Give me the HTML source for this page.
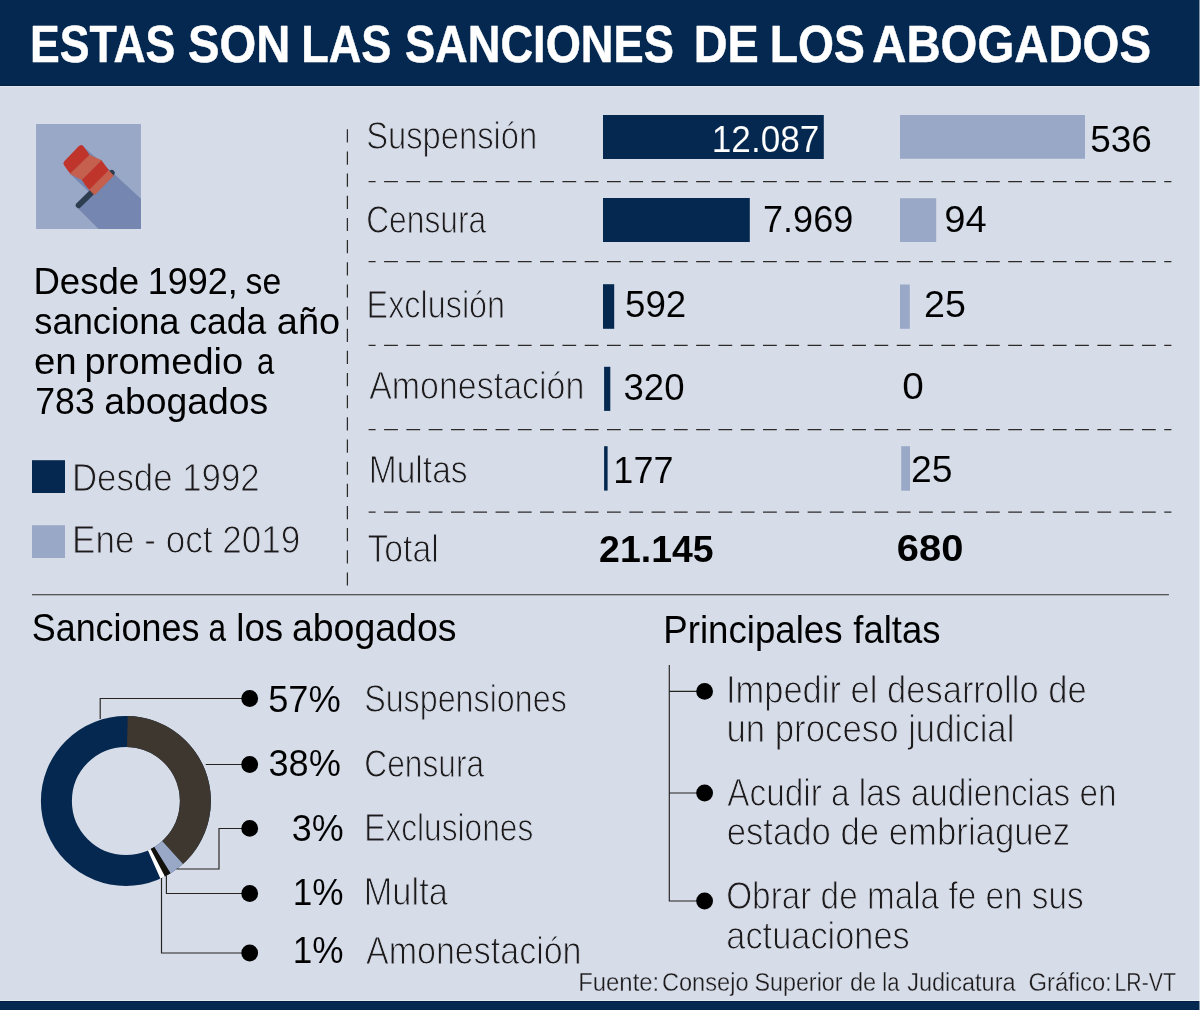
<!DOCTYPE html><html lang="es"><head><meta charset="utf-8"><title>Estas son las sanciones de los abogados</title>
<style>html,body{margin:0;padding:0;background:#d6dde9;}svg{display:block;font-family:"Liberation Sans",sans-serif;}</style></head><body>
<svg width="1200" height="1010" viewBox="0 0 1200 1010">
<rect width="1200" height="1010" fill="#d6dde9"/>
<rect width="1200" height="86" fill="#052850"/>
<rect y="1001" width="1200" height="9" fill="#052850"/>
<rect y="85" width="1200" height="1" fill="#021f47"/><rect y="86" width="1200" height="1" fill="#e2e7f0"/>
<rect y="1000" width="1200" height="1" fill="#e2e7f0"/><rect y="1001" width="1200" height="1" fill="#021f47"/>
<svg x="36" y="124" width="105" height="105" viewBox="123 107 817 818">
<rect x="123" y="107" width="817" height="818" fill="#9aa8c7"/>
<path d="M478 270 L725 490 L940 690 L940 925 L610 925 L440 755 L540 640 L385 492 Z" fill="#7587b0"/>
<line x1="455" y1="740" x2="712" y2="487" stroke="#2c3e50" stroke-width="46" stroke-linecap="round"/>
<path d="M540 350 L390 495 L362 455 L509 306 Z" fill="#c0352b"/>
<path d="M473.9 295.9 L360.3 414.1 L393.1 458.7 L508.7 346.8 Z" fill="#c0352b" stroke="#c0352b" stroke-width="48" stroke-linejoin="round"/>
<path d="M480 540 L510 585 L540 620 L690 470 L660 430 L630 390 Z" fill="#c0352b" stroke="#c0352b" stroke-width="5" stroke-linejoin="round"/>
<path d="M390 495 L440 522 L480 540 L630 390 L590 372 L540 350 Z" fill="#c55f4e" stroke="#c55f4e" stroke-width="5" stroke-linejoin="round"/>
<path d="M540 620 L578 660 L726 510 L690 470 Z" fill="#c55f4e" stroke="#c55f4e" stroke-width="5" stroke-linejoin="round"/>
</svg>
<rect x="32" y="460.2" width="33" height="32.8" fill="#052850"/>
<rect x="32" y="525.2" width="33" height="32.8" fill="#9aa8c7"/>
<line x1="347.4" y1="129.3" x2="347.4" y2="585.7" stroke="#2e2a28" stroke-width="1.25" stroke-dasharray="13.2 8.955"/>
<line x1="368.6" y1="181.65" x2="1171.4" y2="181.65" stroke="#2e2a28" stroke-width="1.25" stroke-dasharray="13.8 8.49" stroke-dashoffset="6.8"/>
<line x1="368.6" y1="261.5" x2="1171.4" y2="261.5" stroke="#2e2a28" stroke-width="1.25" stroke-dasharray="13.8 8.49" stroke-dashoffset="6.8"/>
<line x1="368.6" y1="345.45" x2="1171.4" y2="345.45" stroke="#2e2a28" stroke-width="1.25" stroke-dasharray="13.8 8.49" stroke-dashoffset="6.8"/>
<line x1="368.6" y1="429.68" x2="1171.4" y2="429.68" stroke="#2e2a28" stroke-width="1.25" stroke-dasharray="13.8 8.49" stroke-dashoffset="6.8"/>
<line x1="368.6" y1="512.0" x2="1171.4" y2="512.0" stroke="#2e2a28" stroke-width="1.25" stroke-dasharray="13.8 8.49" stroke-dashoffset="6.8"/>
<line x1="32" y1="594.75" x2="1168.9" y2="594.75" stroke="#2e2a28" stroke-width="1.2"/>
<rect x="603" y="115" width="220.8" height="44.0" fill="#052850"/>
<rect x="603" y="198" width="146.8" height="44.0" fill="#052850"/>
<rect x="603" y="284.2" width="11.2" height="44.6" fill="#052850"/>
<rect x="604.1" y="366.8" width="6.2" height="44.1" fill="#052850"/>
<rect x="604.1" y="446.2" width="3.5" height="44.4" fill="#052850"/>
<rect x="900" y="115" width="185.0" height="43.8" fill="#9aa8c7"/>
<rect x="900" y="198.2" width="36.2" height="43.8" fill="#9aa8c7"/>
<rect x="900" y="284.5" width="9.8" height="44.3" fill="#9aa8c7"/>
<rect x="901.2" y="446.2" width="8.8" height="44.5" fill="#9aa8c7"/>
<circle cx="125.9" cy="801" r="69.5" fill="none" stroke="#052850" stroke-width="31"/>
<path d="M127.68 716.02 A85 85 0 0 1 182.78 864.17 L162.03 841.13 A54 54 0 0 0 127.03 747.01 Z" fill="#3d3730"/>
<path d="M183.00 863.97 A85 85 0 0 1 170.31 873.47 L154.11 847.04 A54 54 0 0 0 162.17 841.00 Z" fill="#9aa8c7"/>
<path d="M170.57 873.32 A85 85 0 0 1 164.62 876.67 L150.50 849.07 A54 54 0 0 0 154.28 846.94 Z" fill="#12110c"/>
<path d="M164.89 876.53 A85 85 0 0 1 160.47 878.65 L147.86 850.33 A54 54 0 0 0 150.67 848.99 Z" fill="#fff"/>
<path d="M100.2 719 V698.5 H249.6" stroke="#262220" stroke-width="1.15" fill="none"/>
<path d="M205.7 764.5 H249.6" stroke="#262220" stroke-width="1.15" fill="none"/>
<path d="M176.5 869 H219 V828.5 H249.6" stroke="#262220" stroke-width="1.15" fill="none"/>
<path d="M166.4 875 V893.5 H249.6" stroke="#262220" stroke-width="1.15" fill="none"/>
<path d="M161.5 878 V953 H249.6" stroke="#262220" stroke-width="1.15" fill="none"/>
<circle cx="249.7" cy="698.5" r="8.4" fill="#000"/>
<circle cx="249.7" cy="764.5" r="8.4" fill="#000"/>
<circle cx="249.7" cy="828.4" r="8.4" fill="#000"/>
<circle cx="249.7" cy="893.5" r="8.4" fill="#000"/>
<circle cx="249.7" cy="953" r="8.4" fill="#000"/>
<path d="M704 691.4 H669.3 M704 793 H669.3 M669.3 665 V901 H704" stroke="#262220" stroke-width="1.15" fill="none"/>
<circle cx="704.6" cy="691.4" r="8.4" fill="#000"/>
<circle cx="704.6" cy="793" r="8.4" fill="#000"/>
<circle cx="704.6" cy="901" r="8.4" fill="#000"/>
<text transform="translate(30.05 62.45) scale(0.8732 1)" font-size="51.05" font-weight="700" fill="#fff" stroke="#fff" stroke-width="0.50" stroke-linejoin="round">ESTAS</text>
<text transform="translate(188.05 62.45) scale(0.9241 1)" font-size="51.05" font-weight="700" fill="#fff" stroke="#fff" stroke-width="0.50" stroke-linejoin="round">SON</text>
<text transform="translate(301.18 62.45) scale(0.8828 1)" font-size="51.05" font-weight="700" fill="#fff" stroke="#fff" stroke-width="0.50" stroke-linejoin="round">LAS</text>
<text transform="translate(404.91 62.45) scale(0.8864 1)" font-size="51.05" font-weight="700" fill="#fff" stroke="#fff" stroke-width="0.50" stroke-linejoin="round">SANCIONES</text>
<text transform="translate(693.81 62.45) scale(0.9173 1)" font-size="51.05" font-weight="700" fill="#fff" stroke="#fff" stroke-width="0.50" stroke-linejoin="round">DE</text>
<text transform="translate(769.81 62.45) scale(0.9066 1)" font-size="51.05" font-weight="700" fill="#fff" stroke="#fff" stroke-width="0.50" stroke-linejoin="round">LOS</text>
<text transform="translate(872.20 62.45) scale(0.9277 1)" font-size="51.05" font-weight="700" fill="#fff" stroke="#fff" stroke-width="0.50" stroke-linejoin="round">ABOGADOS</text>
<text transform="translate(33.39 293.50) scale(0.9677 1)" font-size="37.82" fill="#000">Desde</text>
<text transform="translate(147.75 293.50) scale(0.9511 1)" font-size="37.82" fill="#000">1992,</text>
<text transform="translate(245.53 293.50) scale(0.8920 1)" font-size="37.82" fill="#000">se</text>
<text transform="translate(34.33 333.90) scale(0.9594 1)" font-size="37.82" fill="#000">sanciona</text>
<text transform="translate(189.33 333.90) scale(0.9378 1)" font-size="37.82" fill="#000">cada</text>
<text transform="translate(276.77 333.90) scale(1.0042 1)" font-size="37.82" fill="#000">año</text>
<text transform="translate(33.95 373.80) scale(1.0177 1)" font-size="37.82" fill="#000">en</text>
<text transform="translate(84.58 373.80) scale(1.0060 1)" font-size="37.82" fill="#000">promedio</text>
<text transform="translate(257.08 373.80) scale(0.8189 1)" font-size="37.82" fill="#000">a</text>
<text transform="translate(35.25 413.70) scale(0.9426 1)" font-size="37.82" fill="#000">783</text>
<text transform="translate(104.34 413.70) scale(0.9864 1)" font-size="37.82" fill="#000">abogados</text>
<text transform="translate(71.92 491.30) scale(0.8968 1)" font-size="38.84" fill="#1d1a1b" stroke="#d6dde9" stroke-width="1.00">Desde 1992</text>
<text transform="translate(72.10 553.30) scale(0.9034 1)" font-size="38.84" fill="#1d1a1b" stroke="#d6dde9" stroke-width="1.00">Ene - oct 2019</text>
<text transform="translate(366.15 148.60) scale(0.8561 1)" font-size="38.25" fill="#1d1a1b" stroke="#d6dde9" stroke-width="1.00">Suspensión</text>
<text transform="translate(366.16 232.70) scale(0.8304 1)" font-size="38.25" fill="#1d1a1b" stroke="#d6dde9" stroke-width="1.00">Censura</text>
<text transform="translate(366.58 317.50) scale(0.8462 1)" font-size="38.25" fill="#1d1a1b" stroke="#d6dde9" stroke-width="1.00">Exclusión</text>
<text transform="translate(369.16 399.30) scale(0.8879 1)" font-size="38.25" fill="#1d1a1b" stroke="#d6dde9" stroke-width="1.00">Amonestación</text>
<text transform="translate(368.73 483.10) scale(0.8780 1)" font-size="38.25" fill="#1d1a1b" stroke="#d6dde9" stroke-width="1.00">Multas</text>
<text transform="translate(367.44 562.30) scale(0.8828 1)" font-size="38.25" fill="#1d1a1b" stroke="#d6dde9" stroke-width="1.00">Total</text>
<text transform="translate(711.79 151.85) scale(0.9444 1)" font-size="37.24" fill="#fff" stroke="#052850" stroke-width="0.10">12.087</text>
<text transform="translate(763.06 231.95) scale(0.9683 1)" font-size="37.24" fill="#000" stroke="#d6dde9" stroke-width="0.10">7.969</text>
<text transform="translate(624.93 316.65) scale(0.9873 1)" font-size="37.24" fill="#000" stroke="#d6dde9" stroke-width="0.10">592</text>
<text transform="translate(623.49 399.65) scale(0.9822 1)" font-size="37.24" fill="#000" stroke="#d6dde9" stroke-width="0.10">320</text>
<text transform="translate(613.34 482.95) scale(0.9680 1)" font-size="37.24" fill="#000" stroke="#d6dde9" stroke-width="0.10">177</text>
<text transform="translate(599.12 561.60) scale(1.0102 1)" font-size="37.09" font-weight="700" fill="#000">21.145</text>
<text transform="translate(1090.16 151.65) scale(0.9917 1)" font-size="37.24" fill="#000" stroke="#d6dde9" stroke-width="0.10">536</text>
<text transform="translate(944.28 232.25) scale(1.0249 1)" font-size="37.24" fill="#000" stroke="#d6dde9" stroke-width="0.10">94</text>
<text transform="translate(924.09 316.65) scale(1.0113 1)" font-size="37.24" fill="#000" stroke="#d6dde9" stroke-width="0.10">25</text>
<text transform="translate(902.28 399.15) scale(1.0400 1)" font-size="37.24" fill="#000" stroke="#d6dde9" stroke-width="0.10">0</text>
<text transform="translate(911.08 482.05) scale(1.0039 1)" font-size="37.24" fill="#000" stroke="#d6dde9" stroke-width="0.10">25</text>
<text transform="translate(896.80 561.20) scale(1.0762 1)" font-size="37.09" font-weight="700" fill="#000">680</text>
<text transform="translate(31.72 640.50) scale(0.9354 1)" font-size="38.40" fill="#000">Sanciones</text>
<text transform="translate(208.53 640.50) scale(0.8204 1)" font-size="38.40" fill="#000">a</text>
<text transform="translate(236.23 640.50) scale(0.9552 1)" font-size="38.40" fill="#000">los</text>
<text transform="translate(291.91 640.50) scale(0.9761 1)" font-size="38.40" fill="#000">abogados</text>
<text transform="translate(268.18 711.55) scale(0.9750 1)" font-size="37.24" fill="#000" stroke="#d6dde9" stroke-width="0.10">57%</text>
<text transform="translate(364.13 712.00) scale(0.8438 1)" font-size="38.25" fill="#1d1a1b" stroke="#d6dde9" stroke-width="1.00">Suspensiones</text>
<text transform="translate(268.47 776.45) scale(0.9721 1)" font-size="37.24" fill="#000" stroke="#d6dde9" stroke-width="0.10">38%</text>
<text transform="translate(364.34 776.90) scale(0.8287 1)" font-size="38.25" fill="#1d1a1b" stroke="#d6dde9" stroke-width="1.00">Censura</text>
<text transform="translate(291.76 840.95) scale(0.9646 1)" font-size="37.24" fill="#000" stroke="#d6dde9" stroke-width="0.10">3%</text>
<text transform="translate(364.27 841.40) scale(0.8286 1)" font-size="38.25" fill="#1d1a1b" stroke="#d6dde9" stroke-width="1.00">Exclusiones</text>
<text transform="translate(292.81 904.55) scale(0.9440 1)" font-size="37.24" fill="#000" stroke="#d6dde9" stroke-width="0.10">1%</text>
<text transform="translate(363.72 905.00) scale(0.8994 1)" font-size="38.25" fill="#1d1a1b" stroke="#d6dde9" stroke-width="1.00">Multa</text>
<text transform="translate(292.81 963.05) scale(0.9440 1)" font-size="37.24" fill="#000" stroke="#d6dde9" stroke-width="0.10">1%</text>
<text transform="translate(365.94 963.50) scale(0.8900 1)" font-size="38.25" fill="#1d1a1b" stroke="#d6dde9" stroke-width="1.00">Amonestación</text>
<text transform="translate(663.20 643.20) scale(0.9590 1)" font-size="38.25" fill="#000">Principales</text>
<text transform="translate(853.35 643.20) scale(0.9531 1)" font-size="38.25" fill="#000">faltas</text>
<text transform="translate(725.89 703.10) scale(0.9028 1)" font-size="38.25" fill="#1d1a1b" stroke="#d6dde9" stroke-width="1.00">Impedir el desarrollo de</text>
<text transform="translate(726.45 742.00) scale(0.9092 1)" font-size="38.25" fill="#1d1a1b" stroke="#d6dde9" stroke-width="1.00">un proceso judicial</text>
<text transform="translate(727.20 806.40) scale(0.8727 1)" font-size="38.25" fill="#1d1a1b" stroke="#d6dde9" stroke-width="1.00">Acudir a las audiencias en</text>
<text transform="translate(726.63 845.20) scale(0.9083 1)" font-size="38.25" fill="#1d1a1b" stroke="#d6dde9" stroke-width="1.00">estado de embriaguez</text>
<text transform="translate(726.19 908.80) scale(0.8714 1)" font-size="38.25" fill="#1d1a1b" stroke="#d6dde9" stroke-width="1.00">Obrar de mala fe en sus</text>
<text transform="translate(726.28 948.80) scale(0.8993 1)" font-size="38.25" fill="#1d1a1b" stroke="#d6dde9" stroke-width="1.00">actuaciones</text>
<text transform="translate(578.16 990.67) scale(0.9161 1)" font-size="26.11" fill="#1d1a1b" stroke="#d6dde9" stroke-width="0.35">Fuente:</text>
<text transform="translate(661.97 990.67) scale(0.9037 1)" font-size="26.11" fill="#1d1a1b" stroke="#d6dde9" stroke-width="0.35">Consejo</text>
<text transform="translate(754.39 990.67) scale(0.8938 1)" font-size="26.11" fill="#1d1a1b" stroke="#d6dde9" stroke-width="0.35">Superior</text>
<text transform="translate(850.03 990.67) scale(0.9007 1)" font-size="26.11" fill="#1d1a1b" stroke="#d6dde9" stroke-width="0.35">de</text>
<text transform="translate(882.25 990.67) scale(0.8438 1)" font-size="26.11" fill="#1d1a1b" stroke="#d6dde9" stroke-width="0.35">la</text>
<text transform="translate(907.31 990.67) scale(0.8986 1)" font-size="26.11" fill="#1d1a1b" stroke="#d6dde9" stroke-width="0.35">Judicatura</text>
<text transform="translate(1028.47 990.67) scale(0.9109 1)" font-size="26.11" fill="#1d1a1b" stroke="#d6dde9" stroke-width="0.35">Gráfico:</text>
<text transform="translate(1114.51 990.67) scale(0.8153 1)" font-size="26.11" fill="#1d1a1b" stroke="#d6dde9" stroke-width="0.35">LR-VT</text>
<rect x="1199" y="0" width="1" height="1010" fill="#fff" opacity="0.5"/>
</svg></body></html>
